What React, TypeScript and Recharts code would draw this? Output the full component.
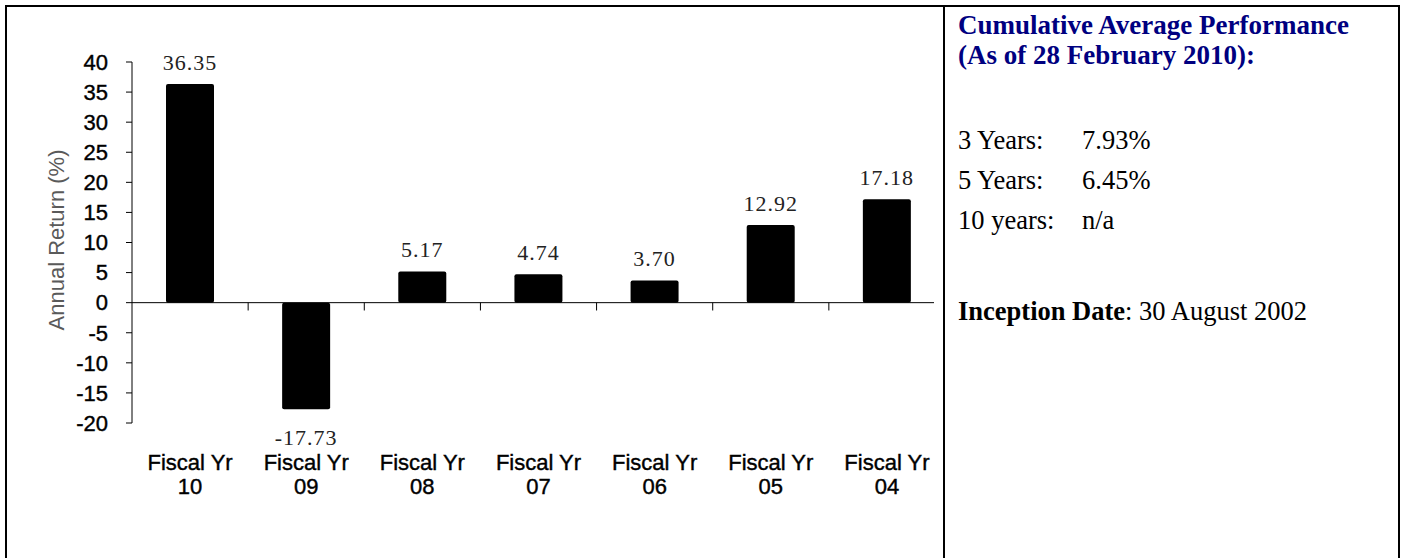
import React from 'react';
import { BarChart, Bar, XAxis, YAxis, ReferenceLine, LabelList, Label } from 'recharts';

const categories = [
  'Fiscal Yr 10',
  'Fiscal Yr 09',
  'Fiscal Yr 08',
  'Fiscal Yr 07',
  'Fiscal Yr 06',
  'Fiscal Yr 05',
  'Fiscal Yr 04',
];
const annualReturn = [36.35, -17.73, 5.17, 4.74, 3.7, 12.92, 17.18];
const yTicks = [-20, -15, -10, -5, 0, 5, 10, 15, 20, 25, 30, 35, 40];

const perfLabels = ['3 Years:', '5 Years:', '10 years:'];
const perfValues = ['7.93%', '6.45%', 'n/a'];

const SANS = '"Liberation Sans", Arial, sans-serif';
const SERIF = '"Liberation Serif", "Times New Roman", serif';

// pos = slot centre on a 0..n numeric scale, only used by the hidden boundary axis
const data = categories.map((name, i) => ({ name, value: annualReturn[i], pos: i + 0.5 }));
// boundaries between categories, for the small ticks hanging off the zero line
const boundaries = categories.slice(1).map((_, i) => i + 1);

const FiscalTick = ({ x, y, payload }: any) => {
  const s = String(payload.value);
  const cut = s.lastIndexOf(' ');
  return (
    <text
      x={x}
      y={y}
      textAnchor="middle"
      fontFamily={SANS}
      fontSize={22}
      fill="#000"
      stroke="#000"
      strokeWidth={0.4}
    >
      <tspan x={x} dy={47}>{s.slice(0, cut)}</tspan>
      <tspan x={x} dy={24}>{s.slice(cut + 1)}</tspan>
    </text>
  );
};

const renderValue = (props: any) => {
  const { x, y, width, height, value } = props;
  const top = Math.min(y, y + height);
  const bottom = Math.max(y, y + height);
  const ty = value >= 0 ? top - 22 : bottom + 28;
  return (
    <text
      x={x + width / 2}
      y={ty}
      dy="0.35em"
      textAnchor="middle"
      fontFamily={SERIF}
      fontSize={22}
      letterSpacing={1}
      fill="#222"
    >
      {Number(value).toFixed(2)}
    </text>
  );
};

const border = '#000';

const App = () => {
  return (
    <div style={{ position: 'absolute', left: 0, top: 0, width: 1407, height: 558, background: '#fff', overflow: 'hidden' }}>
      <div style={{ position: 'absolute', left: 0, top: 0, width: 934, height: 558, overflow: 'hidden' }}>
        <BarChart
          width={946}
          height={520}
          data={data}
          margin={{ top: 62, right: 1, bottom: 0, left: 0 }}
          barSize={48}
        >
          <XAxis
            dataKey="name"
            axisLine={false}
            tickLine={false}
            tickSize={0}
            tickMargin={0}
            interval={0}
            height={97}
            tick={<FiscalTick />}
          />
          <XAxis
            xAxisId="num"
            dataKey="pos"
            type="number"
            domain={[0, categories.length]}
            allowDataOverflow
            hide
          />
          <YAxis
            width={132}
            domain={[-20, 40]}
            ticks={yTicks}
            interval={0}
            axisLine={{ stroke: '#000' }}
            tickLine={{ stroke: '#000' }}
            tickSize={6}
            tickMargin={18}
            tick={{ fill: '#000', fontFamily: SANS, fontSize: 22, stroke: '#000', strokeWidth: 0.4 }}
          >
            <Label
              content={() => (
                <text
                  x={56}
                  y={240}
                  transform="rotate(-90 56 240)"
                  textAnchor="middle"
                  dominantBaseline="central"
                  fontFamily={SANS}
                  fontSize={22}
                  fill="#5a5a5a"
                >
                  Annual Return (%)
                </text>
              )}
            />
          </YAxis>
          <ReferenceLine y={0} stroke="#000" strokeWidth={1} />
          {boundaries.map((b) => (
            <ReferenceLine
              key={b}
              xAxisId="num"
              segment={[{ x: b, y: 0 }, { x: b, y: -1.3 }]}
              stroke="#000"
              strokeWidth={1}
            />
          ))}
          <Bar dataKey="value" fill="#000" radius={2} isAnimationActive={false}>
            <LabelList dataKey="value" content={renderValue} />
          </Bar>
        </BarChart>
      </div>

      {/* table frame */}
      <div style={{ position: 'absolute', left: 5, top: 5, width: 1395, height: 2, background: border }} />
      <div style={{ position: 'absolute', left: 5, top: 5, width: 2, height: 553, background: border }} />
      <div style={{ position: 'absolute', left: 943, top: 5, width: 2, height: 553, background: border }} />
      <div style={{ position: 'absolute', left: 1398, top: 5, width: 2, height: 553, background: border }} />

      <div style={{ position: 'absolute', left: 958, top: 10, fontFamily: SERIF, fontSize: 27, lineHeight: '30px', color: '#000080', fontWeight: 'bold', whiteSpace: 'nowrap' }}>
        Cumulative Average Performance
        <br />
        (As of 28 February 2010):
      </div>

      <div style={{ position: 'absolute', left: 958, top: 120, fontFamily: SERIF, fontSize: 26.5, lineHeight: '40px', color: '#000' }}>
        {perfLabels.map((l, i) => (
          <div key={l} style={{ display: 'flex', whiteSpace: 'nowrap' }}>
            <span style={{ width: 124 }}>{l}</span>
            <span>{perfValues[i]}</span>
          </div>
        ))}
      </div>

      <div style={{ position: 'absolute', left: 958, top: 291, fontFamily: SERIF, fontSize: 26.5, lineHeight: '40px', color: '#000', whiteSpace: 'nowrap' }}>
        <b>Inception Date</b>: 30 August 2002
      </div>
    </div>
  );
};

export default App;
